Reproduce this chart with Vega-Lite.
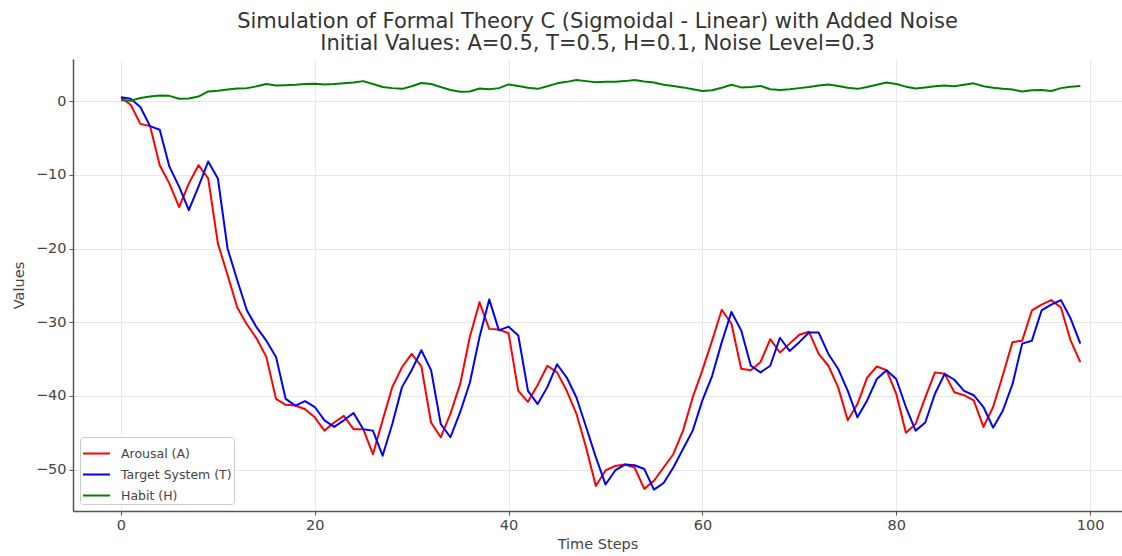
{
  "$schema": "https://vega.github.io/schema/vega-lite/v6.json",
  "width": 1049,
  "height": 452,
  "autosize": {"type": "none"},
  "padding": {"left": 73, "top": 59, "right": 0, "bottom": 45},
  "background": "white",
  "title": {
    "text": ["Simulation of Formal Theory C (Sigmoidal - Linear) with Added Noise", "Initial Values: A=0.5, T=0.5, H=0.1, Noise Level=0.3"],
    "anchor": "middle",
    "fontSize": 21,
    "fontWeight": "normal",
    "font": "DejaVu Sans",
    "color": "#333333",
    "lineHeight": 22,
    "offset": 5
  },
  "data": {
    "values": [
      {"t": 0, "Arousal (A)": 0.5, "Target System (T)": 0.5, "Habit (H)": 0.1},
      {"t": 1, "Arousal (A)": -0.5, "Target System (T)": 0.3, "Habit (H)": 0.05},
      {"t": 2, "Arousal (A)": -3.1, "Target System (T)": -0.8, "Habit (H)": 0.4},
      {"t": 3, "Arousal (A)": -3.4, "Target System (T)": -3.4, "Habit (H)": 0.6},
      {"t": 4, "Arousal (A)": -8.7, "Target System (T)": -3.9, "Habit (H)": 0.75},
      {"t": 5, "Arousal (A)": -11.2, "Target System (T)": -8.9, "Habit (H)": 0.7},
      {"t": 6, "Arousal (A)": -14.4, "Target System (T)": -11.6, "Habit (H)": 0.3},
      {"t": 7, "Arousal (A)": -11.2, "Target System (T)": -14.8, "Habit (H)": 0.35},
      {"t": 8, "Arousal (A)": -8.7, "Target System (T)": -11.6, "Habit (H)": 0.6},
      {"t": 9, "Arousal (A)": -10.5, "Target System (T)": -8.2, "Habit (H)": 1.3},
      {"t": 10, "Arousal (A)": -19.3, "Target System (T)": -10.5, "Habit (H)": 1.4},
      {"t": 11, "Arousal (A)": -23.6, "Target System (T)": -20.0, "Habit (H)": 1.55},
      {"t": 12, "Arousal (A)": -28.0, "Target System (T)": -24.3, "Habit (H)": 1.7},
      {"t": 13, "Arousal (A)": -30.3, "Target System (T)": -28.4, "Habit (H)": 1.75},
      {"t": 14, "Arousal (A)": -32.2, "Target System (T)": -30.7, "Habit (H)": 2.0},
      {"t": 15, "Arousal (A)": -34.7, "Target System (T)": -32.5, "Habit (H)": 2.3},
      {"t": 16, "Arousal (A)": -40.4, "Target System (T)": -34.7, "Habit (H)": 2.1},
      {"t": 17, "Arousal (A)": -41.2, "Target System (T)": -40.4, "Habit (H)": 2.15},
      {"t": 18, "Arousal (A)": -41.3, "Target System (T)": -41.3, "Habit (H)": 2.2},
      {"t": 19, "Arousal (A)": -41.8, "Target System (T)": -40.7, "Habit (H)": 2.3},
      {"t": 20, "Arousal (A)": -42.9, "Target System (T)": -41.5, "Habit (H)": 2.35},
      {"t": 21, "Arousal (A)": -44.7, "Target System (T)": -43.3, "Habit (H)": 2.25},
      {"t": 22, "Arousal (A)": -43.6, "Target System (T)": -44.2, "Habit (H)": 2.3},
      {"t": 23, "Arousal (A)": -42.7, "Target System (T)": -43.3, "Habit (H)": 2.4},
      {"t": 24, "Arousal (A)": -44.5, "Target System (T)": -42.3, "Habit (H)": 2.5},
      {"t": 25, "Arousal (A)": -44.5, "Target System (T)": -44.5, "Habit (H)": 2.7},
      {"t": 26, "Arousal (A)": -47.9, "Target System (T)": -44.7, "Habit (H)": 2.3},
      {"t": 27, "Arousal (A)": -43.3, "Target System (T)": -48.1, "Habit (H)": 1.9},
      {"t": 28, "Arousal (A)": -38.8, "Target System (T)": -43.8, "Habit (H)": 1.75},
      {"t": 29, "Arousal (A)": -36.1, "Target System (T)": -38.8, "Habit (H)": 1.65},
      {"t": 30, "Arousal (A)": -34.3, "Target System (T)": -36.5, "Habit (H)": 2.0},
      {"t": 31, "Arousal (A)": -36.0, "Target System (T)": -33.8, "Habit (H)": 2.45},
      {"t": 32, "Arousal (A)": -43.6, "Target System (T)": -36.5, "Habit (H)": 2.3},
      {"t": 33, "Arousal (A)": -45.6, "Target System (T)": -43.8, "Habit (H)": 1.9},
      {"t": 34, "Arousal (A)": -42.4, "Target System (T)": -45.6, "Habit (H)": 1.5},
      {"t": 35, "Arousal (A)": -38.4, "Target System (T)": -42.2, "Habit (H)": 1.25},
      {"t": 36, "Arousal (A)": -32.0, "Target System (T)": -38.2, "Habit (H)": 1.3},
      {"t": 37, "Arousal (A)": -27.3, "Target System (T)": -32.0, "Habit (H)": 1.7},
      {"t": 38, "Arousal (A)": -30.9, "Target System (T)": -26.9, "Habit (H)": 1.6},
      {"t": 39, "Arousal (A)": -31.0, "Target System (T)": -31.1, "Habit (H)": 1.75},
      {"t": 40, "Arousal (A)": -31.5, "Target System (T)": -30.6, "Habit (H)": 2.25},
      {"t": 41, "Arousal (A)": -39.3, "Target System (T)": -31.8, "Habit (H)": 2.05},
      {"t": 42, "Arousal (A)": -40.8, "Target System (T)": -39.3, "Habit (H)": 1.8},
      {"t": 43, "Arousal (A)": -38.5, "Target System (T)": -41.1, "Habit (H)": 1.65},
      {"t": 44, "Arousal (A)": -35.9, "Target System (T)": -38.8, "Habit (H)": 2.0},
      {"t": 45, "Arousal (A)": -36.8, "Target System (T)": -35.7, "Habit (H)": 2.4},
      {"t": 46, "Arousal (A)": -39.3, "Target System (T)": -37.5, "Habit (H)": 2.6},
      {"t": 47, "Arousal (A)": -42.4, "Target System (T)": -40.2, "Habit (H)": 2.85},
      {"t": 48, "Arousal (A)": -47.0, "Target System (T)": -44.2, "Habit (H)": 2.7},
      {"t": 49, "Arousal (A)": -52.2, "Target System (T)": -48.3, "Habit (H)": 2.55},
      {"t": 50, "Arousal (A)": -50.1, "Target System (T)": -52.0, "Habit (H)": 2.6},
      {"t": 51, "Arousal (A)": -49.5, "Target System (T)": -50.1, "Habit (H)": 2.6},
      {"t": 52, "Arousal (A)": -49.3, "Target System (T)": -49.3, "Habit (H)": 2.7},
      {"t": 53, "Arousal (A)": -49.7, "Target System (T)": -49.4, "Habit (H)": 2.85},
      {"t": 54, "Arousal (A)": -52.6, "Target System (T)": -49.9, "Habit (H)": 2.65},
      {"t": 55, "Arousal (A)": -51.5, "Target System (T)": -52.7, "Habit (H)": 2.5},
      {"t": 56, "Arousal (A)": -49.7, "Target System (T)": -51.8, "Habit (H)": 2.2},
      {"t": 57, "Arousal (A)": -47.9, "Target System (T)": -49.7, "Habit (H)": 2.05},
      {"t": 58, "Arousal (A)": -44.7, "Target System (T)": -47.2, "Habit (H)": 1.85},
      {"t": 59, "Arousal (A)": -40.2, "Target System (T)": -44.7, "Habit (H)": 1.6},
      {"t": 60, "Arousal (A)": -36.5, "Target System (T)": -40.6, "Habit (H)": 1.35},
      {"t": 61, "Arousal (A)": -32.5, "Target System (T)": -37.3, "Habit (H)": 1.45},
      {"t": 62, "Arousal (A)": -28.3, "Target System (T)": -32.7, "Habit (H)": 1.8},
      {"t": 63, "Arousal (A)": -30.2, "Target System (T)": -28.6, "Habit (H)": 2.2},
      {"t": 64, "Arousal (A)": -36.3, "Target System (T)": -31.1, "Habit (H)": 1.85},
      {"t": 65, "Arousal (A)": -36.5, "Target System (T)": -35.9, "Habit (H)": 1.9},
      {"t": 66, "Arousal (A)": -35.4, "Target System (T)": -36.8, "Habit (H)": 2.05},
      {"t": 67, "Arousal (A)": -32.3, "Target System (T)": -35.9, "Habit (H)": 1.6},
      {"t": 68, "Arousal (A)": -34.1, "Target System (T)": -32.1, "Habit (H)": 1.5},
      {"t": 69, "Arousal (A)": -32.9, "Target System (T)": -33.9, "Habit (H)": 1.6},
      {"t": 70, "Arousal (A)": -31.7, "Target System (T)": -32.7, "Habit (H)": 1.75},
      {"t": 71, "Arousal (A)": -31.3, "Target System (T)": -31.4, "Habit (H)": 1.9},
      {"t": 72, "Arousal (A)": -34.3, "Target System (T)": -31.4, "Habit (H)": 2.1},
      {"t": 73, "Arousal (A)": -35.9, "Target System (T)": -34.3, "Habit (H)": 2.25},
      {"t": 74, "Arousal (A)": -38.8, "Target System (T)": -36.3, "Habit (H)": 2.05},
      {"t": 75, "Arousal (A)": -43.3, "Target System (T)": -39.3, "Habit (H)": 1.8},
      {"t": 76, "Arousal (A)": -41.1, "Target System (T)": -42.9, "Habit (H)": 1.65},
      {"t": 77, "Arousal (A)": -37.5, "Target System (T)": -40.6, "Habit (H)": 1.9},
      {"t": 78, "Arousal (A)": -36.0, "Target System (T)": -37.7, "Habit (H)": 2.2},
      {"t": 79, "Arousal (A)": -36.5, "Target System (T)": -36.5, "Habit (H)": 2.5},
      {"t": 80, "Arousal (A)": -39.7, "Target System (T)": -37.7, "Habit (H)": 2.3},
      {"t": 81, "Arousal (A)": -45.0, "Target System (T)": -41.5, "Habit (H)": 1.95},
      {"t": 82, "Arousal (A)": -43.8, "Target System (T)": -44.7, "Habit (H)": 1.7},
      {"t": 83, "Arousal (A)": -40.2, "Target System (T)": -43.6, "Habit (H)": 1.85},
      {"t": 84, "Arousal (A)": -36.8, "Target System (T)": -39.7, "Habit (H)": 2.0},
      {"t": 85, "Arousal (A)": -37.0, "Target System (T)": -37.0, "Habit (H)": 2.1},
      {"t": 86, "Arousal (A)": -39.5, "Target System (T)": -37.8, "Habit (H)": 2.0},
      {"t": 87, "Arousal (A)": -39.9, "Target System (T)": -39.3, "Habit (H)": 2.2},
      {"t": 88, "Arousal (A)": -40.6, "Target System (T)": -39.9, "Habit (H)": 2.4},
      {"t": 89, "Arousal (A)": -44.2, "Target System (T)": -41.5, "Habit (H)": 2.0},
      {"t": 90, "Arousal (A)": -41.5, "Target System (T)": -44.3, "Habit (H)": 1.8},
      {"t": 91, "Arousal (A)": -37.2, "Target System (T)": -42.0, "Habit (H)": 1.65},
      {"t": 92, "Arousal (A)": -32.7, "Target System (T)": -38.4, "Habit (H)": 1.55},
      {"t": 93, "Arousal (A)": -32.5, "Target System (T)": -32.9, "Habit (H)": 1.3},
      {"t": 94, "Arousal (A)": -28.4, "Target System (T)": -32.5, "Habit (H)": 1.45},
      {"t": 95, "Arousal (A)": -27.6, "Target System (T)": -28.4, "Habit (H)": 1.5},
      {"t": 96, "Arousal (A)": -27.0, "Target System (T)": -27.6, "Habit (H)": 1.35},
      {"t": 97, "Arousal (A)": -28.0, "Target System (T)": -27.0, "Habit (H)": 1.75},
      {"t": 98, "Arousal (A)": -32.5, "Target System (T)": -29.5, "Habit (H)": 1.95},
      {"t": 99, "Arousal (A)": -35.4, "Target System (T)": -32.9, "Habit (H)": 2.05}
    ]
  },
  "transform": [
    {"fold": ["Arousal (A)", "Target System (T)", "Habit (H)"], "as": ["series", "value"]}
  ],
  "mark": {"type": "line", "strokeWidth": 2, "strokeJoin": "round", "clip": true},
  "encoding": {
    "x": {
      "field": "t",
      "type": "quantitative",
      "scale": {"domain": [-4.95, 103.3], "nice": false, "zero": false},
      "axis": {"values": [0, 20, 40, 60, 80, 100], "title": "Time Steps", "titlePadding": 6}
    },
    "y": {
      "field": "value",
      "type": "quantitative",
      "scale": {"domain": [-55.6, 5.7], "nice": false, "zero": false},
      "axis": {"values": [0, -10, -20, -30, -40, -50], "title": "Values", "titlePadding": 9}
    },
    "color": {
      "field": "series",
      "type": "nominal",
      "scale": {
        "domain": ["Arousal (A)", "Target System (T)", "Habit (H)"],
        "range": ["#ff0000", "#0000ff", "#008000"]
      },
      "legend": {
        "title": null,
        "orient": "none",
        "legendX": 7,
        "legendY": 378,
        "direction": "vertical",
        "symbolType": "stroke",
        "symbolSize": 729,
        "symbolStrokeWidth": 2,
        "rowPadding": -9,
        "labelFontSize": 12.5,
        "labelColor": "#444444",
        "labelOffset": 10,
        "fillColor": "white",
        "strokeColor": "#cccccc",
        "padding": 2,
        "cornerRadius": 3
      }
    },
    "order": {"field": "t", "type": "quantitative"}
  },
  "config": {
    "font": "DejaVu Sans",
    "view": {"stroke": null},
    "axis": {
      "grid": true,
      "gridColor": "#e8e8e8",
      "gridWidth": 1,
      "domainColor": "#555555",
      "domainWidth": 1.5,
      "tickColor": "#555555",
      "tickSize": 4,
      "labelFontSize": 14.5,
      "labelColor": "#444444",
      "labelPadding": 3,
      "titleFontSize": 14.5,
      "titleColor": "#444444",
      "titleFontWeight": "normal"
    },
    "legend": {"labelFont": "DejaVu Sans"}
  }
}
